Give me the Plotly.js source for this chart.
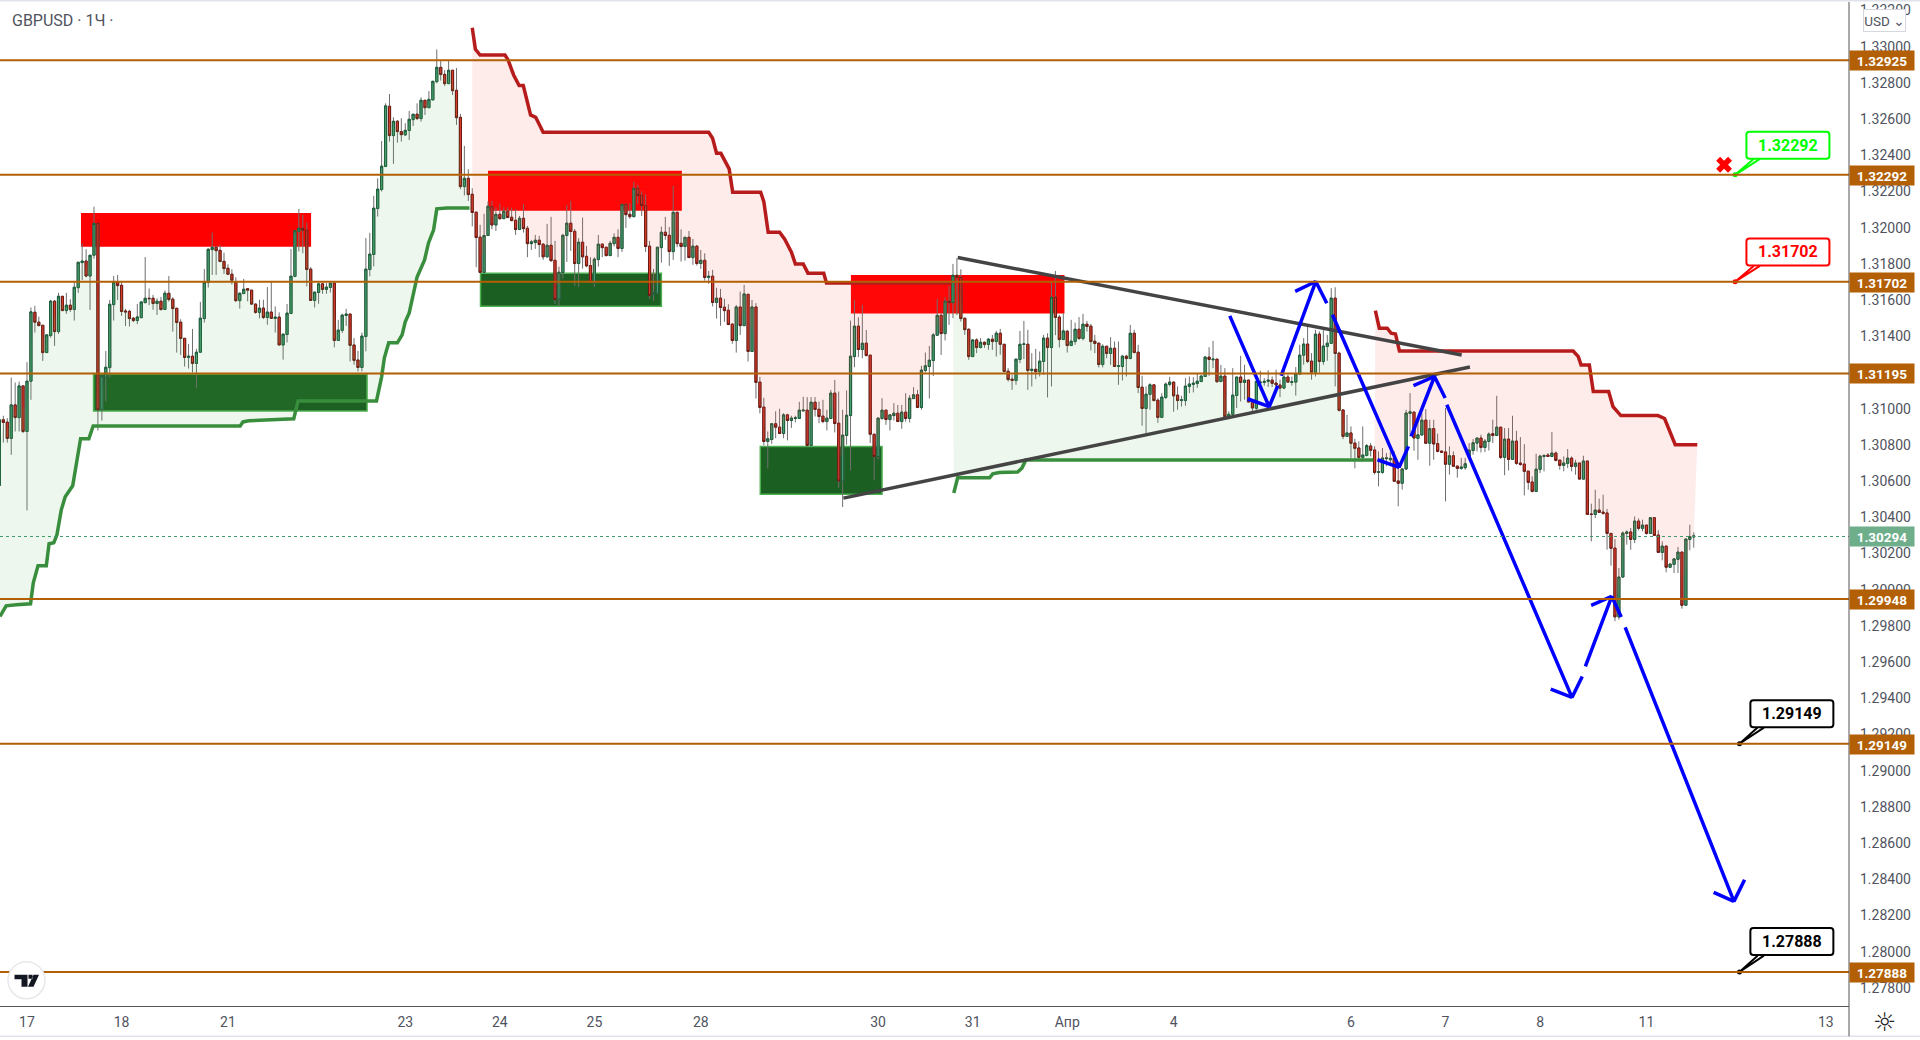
<!DOCTYPE html>
<html><head><meta charset="utf-8"><title>GBPUSD</title>
<script src="https://cdn.plot.ly/plotly-3.0.1.min.js"></script>
<style>html,body{margin:0;padding:0;background:#fff;overflow:hidden}#c{width:1920px;height:1040px}</style>
</head><body><div id="c"></div>
<script>
// Hourly candles in price points (1e-5): open,high,low,close per candle.
const candlesMar17 = [130576,130957,130571,130939, 130939,130961,130813,130924, 130926,130948,130813,130836, 130836,131172,130745,131021, 131021,131145,130874,130951, 130951,131150,130874,131126, 131126,131126,130865,130874, 130874,131257,130438,131152, 131152,131559,131049,131535, 131533,131568,131421,131478, 131478,131509,131457,131459, 131461,131461,131264,131310, 131310,131408,131310,131408, 131404,131601,131393,131594, 131594,131601,131347,131426, 131426,131640,131413,131621, 131621,131621,131542,131542, 131542,131640,131524,131572, 131572,131605,131535,131548, 131548,131698,131487,131671, 131669,131809,131640,131809, 131807,131914,131711,131816, 131816,131881,131726,131733, 131733,131848,131546,131848, 131848,132116,131829,132024, 132024,132024,130880,130994, 130994,131181,130935,131181, 131174,131319,131040,131229, 131227,131601,131172,131577, 131575,131733,131487,131700, 131700,131739,131601,131680, 131682,131702,131513,131537, 131540,131551,131457,131535, 131538,131546,131454,131498, 131500,131507,131478,131487, 131487,131579,131467,131507, 131503,131590,131500,131590, 131586,131838,131583,131610, 131610,131664,131572,131608, 131610,131629,131546,131581, 131581,131610,131518,131594, 131594,131618,131542,131548, 131548,131653,131546,131638, 131638,131733,131592,131603, 131605,131616,131426,131553, 131555,131555,131310,131476, 131478,131494,131297,131388, 131389,131389,131233,131283, 131283,131358,131222,131290, 131290,131441,131200,131250, 131250,131331,131112,131312, 131312,131590,131312,131500, 131498,131772,131476,131698, 131697,131886,131669,131881, 131879,131973,131739,131892, 131892,131899,131739,131873, 131875,131905,131813,131813, 131814,131862,131745,131774, 131776,131798,131739,131743, 131743,131770,131686,131710, 131702,131726,131590,131597, 131597,131643,131553,131638, 131636,131717,131636,131660];
const candlesMar22 = [131663,131666,131593,131655, 131655,131655,131574,131578, 131578,131580,131525,131532, 131532,131602,131499,131556, 131556,131602,131495,131504, 131504,131672,131464,131534, 131534,131703,131499,131499, 131499,131565,131421,131506, 131506,131532,131352,131352, 131352,131412,131271,131412, 131410,131578,131366,131528, 131526,131883,131526,131732, 131731,131983,131727,131983, 131979,132104,131869,131997, 131997,132071,131859,131986, 131986,132029,131675,131769, 131771,131782,131598,131598, 131598,131644,131559,131644, 131642,131694,131580,131690, 131690,131696,131635,131659, 131659,131694,131635,131672, 131670,131694,131642,131694, 131694,131694,131339,131377, 131377,131491,131377,131434, 131433,131525,131418,131517, 131515,131552,131458,131523, 131523,131523,131261,131350, 131352,131390,131243,131267, 131269,131320,131206,131228, 131228,131421,131206,131401, 131399,131942,131317,131771, 131769,131972,131731,131854, 131852,132176,131786,132108, 132106,132273,132062,132213, 132211,132479,132200,132340, 132338,132687,132338,132673, 132671,132739,132476,132509, 132509,132610,132353,132588, 132588,132595,132470,132531, 132531,132605,132476,132514, 132513,132577,132507,132538, 132537,132645,132485,132599, 132597,132627,132562,132627, 132627,132687,132595,132603, 132603,132720,132586,132704, 132704,132704,132623,132663, 132663,132755,132663,132709, 132706,132809,132706,132809, 132807,132985,132798,132886, 132886,132923,132813,132846, 132847,132871,132783,132796, 132796,132923,132796,132870, 132870,132870,132733,132757, 132759,132882,132568,132608, 132610,132629,132213,132227, 132227,132452,132178,132273, 132273,132323,132148,132183, 132185,132218,132007,132084, 132086,132086,131782,131946, 131948,132016,131749,131753, 131753,132077,131753,131957, 131957,132145,131957,132119];
const candlesMar24 = [132117,132148,131991,132015, 132015,132111,131982,132074, 132074,132133,132043,132050, 132050,132113,132050,132091, 132091,132113,132056,132056, 132058,132111,132039,132039, 132041,132102,131960,131990, 131990,132065,131988,132052, 132052,132131,131973,131995, 131997,132010,131837,131912, 131912,131933,131877,131922, 131918,131960,131883,131931, 131931,131955,131837,131907, 131909,131914,131822,131839, 131839,132021,131837,131903, 131903,132060,131811,131818, 131820,131927,131579,131603, 131605,131785,131568,131754, 131752,131966,131717,131958, 131957,132126,131811,132025, 132025,132148,131872,131979, 131980,131993,131679,131802, 131802,131942,131673,131920, 131920,132056,131774,131839, 131842,131899,131782,131789, 131791,131837,131697,131697, 131693,131837,131673,131826, 131824,131960,131785,131909, 131909,131914,131837,131890, 131892,131892,131841,131846, 131846,131927,131844,131914, 131912,131969,131896,131947, 131947,131991,131837,131885, 131885,132135,131866,132129, 132129,132135,131999,132072, 132074,132135,132049,132061, 132061,132253,132058,132218, 132218,132236,132131,132177, 132179,132201,132065,132122, 132122,132185,131866,131896, 131898,131927,131607,131625, 131629,131772,131598,131642, 131638,131892,131634,131892, 131890,132006,131807,131975, 131975,132060,131933,131957, 131958,132004,131789,131868, 131868,132231,131822,132085, 132085,132089,131892,131912, 131914,131991,131813,131896, 131896,131947,131818,131947, 131947,131982,131833,131835, 131835,131938,131795,131898, 131898,131905,131791,131802, 131802,131877,131772,131820, 131820,131859,131708,131725, 131725,131761,131690,131732, 131732,131767,131565,131587, 131587,131668,131498,131611, 131611,131662,131458,131559, 131561,131607,131480,131542, 131544,131577,131462,131465, 131467,131473,131359,131377];
const candlesMar29 = [131377,131573,131310,131562, 131562,131647,131408,131459, 131459,131684,131457,131634, 131632,131632,131261,131316, 131316,131601,131316,131562, 131562,131583,131056,131145, 131147,131176,130974,131007, 131009,131060,130797,130819, 130819,130874,130670,130834, 130830,130920,130806,130917, 130917,130986,130837,130898, 130898,131000,130861,130863, 130863,130975,130837,130966, 130966,130972,130825,130935, 130935,130961,130894,130948, 130946,130961,130924,130950, 130946,131038,130944,130992, 130988,131066,130986,130992, 130992,131064,130791,130797, 130797,131064,130797,131036, 131036,131064,130957,130996, 130997,131040,130920,130957, 130959,131049,130920,130929, 130929,130994,130880,130948, 130946,131104,130944,131086, 131086,131159,130869,130918, 130920,131095,130563,130600, 130600,130994,130457,130854, 130852,131101,130801,130964, 130962,131487,130659,131290, 131288,131601,131229,131456, 131456,131505,131285,131327, 131327,131573,131279,131362, 131362,131435,131288,131294, 131296,131296,130810,130859, 130859,130859,130604,130736, 130736,130951,130718,130948, 130946,131058,130939,130992, 130992,130994,130911,130940, 130940,130966,130880,130966, 130962,131031,130935,130975, 130975,131021,130928,130929, 130929,131021,130889,130981, 130981,131086,130929,130946, 130946,131075,130924,131058, 131056,131119,131053,131077, 131077,131104,131003,131007, 131007,131237,130994,131213, 131211,131310,131200,131237, 131233,131347,131056,131268, 131266,131417,131181,131408, 131406,131605,131402,131516, 131516,131527,131297,131415, 131415,131616,131377,131594, 131594,131678,131463,131586, 131586,131800,131500,131737, 131737,131831,131518,131726, 131726,131770,131481,131498, 131500,131500,131408,131437, 131439,131443,131270,131288, 131288,131384,131288,131380, 131380,131389,131307,131338];
const candlesApr01 = [131338,131390,131333,131367, 131367,131371,131336,131355, 131355,131390,131325,131384, 131384,131408,131325,131371, 131371,131430,131288,131417, 131417,131441,131298,131356, 131356,131356,131200,131206, 131207,131224,131150,131161, 131163,131187,131104,131156, 131156,131274,131132,131274, 131272,131430,131252,131356, 131355,131485,131274,131358, 131356,131436,131104,131211, 131211,131307,131123,131218, 131218,131331,131163,131204, 131204,131316,131178,131263, 131261,131408,131187,131390, 131390,131417,131062,131338, 131338,131702,131123,131616, 131616,131761,131406,131504, 131506,131518,131338,131382, 131382,131528,131380,131430, 131428,131436,131310,131349, 131349,131491,131347,131373, 131371,131476,131353,131439, 131439,131506,131380,131388, 131388,131524,131377,131467, 131467,131485,131426,131454, 131456,131469,131322,131371, 131373,131408,131307,131360, 131362,131366,131228,131244, 131244,131356,131228,131345, 131345,131347,131279,131305, 131305,131395,131242,131334, 131334,131371,131233,131233, 131233,131371,131132,131237, 131233,131298,131156,131290, 131290,131298,131178,131277, 131277,131463,131277,131417, 131417,131436,131307,131310, 131312,131353,131086,131117, 131119,131182,130906,131001, 131001,131123,130865,131080, 131079,131141,130994,131132, 131132,131132,131040,131045, 131047,131058,130922,130952, 130952,131086,130948,131064, 131062,131145,131053,131136, 131134,131176,131123,131147, 131147,131150,130983,131071, 131075,131123,130994,131045, 131045,131071,131012,131049, 131045,131169,131016,131125, 131123,131178,131086,131136, 131134,131174,131090,131141, 131139,131193,131115,131152, 131150,131187,131150,131180, 131178,131292,131178,131285, 131285,131340,131182,131272, 131270,131375,131224,131274, 131274,131274,131145,131149, 131150,131242,131150,131180];
const candlesApr05 = [131180,131224,130939,130956, 130956,130985,130948,130969, 130969,131224,130961,131075, 131073,131175,131004,131175, 131175,131292,131040,131145, 131145,131243,131050,131158, 131158,131160,131035,131037, 131039,131039,130985,131004, 131002,131151,130994,131151, 131143,131210,131105,131147, 131145,131169,131127,131151, 131151,131212,131120,131158, 131158,131178,131120,131140, 131142,131215,131105,131131, 131131,131160,131064,131114, 131114,131215,131108,131175, 131175,131188,131142,131147, 131145,131178,131127,131149, 131147,131230,131072,131193, 131191,131353,131191,131296, 131296,131390,131243,131357, 131357,131454,131252,131261, 131263,131307,131160,131202, 131202,131436,131178,131412, 131412,131427,131200,131261, 131261,131436,131243,131346, 131344,131408,131265,131362, 131361,131666,131359,131611, 131611,131671,131123,131305, 131307,131315,130985,130991, 130993,130998,130832,130847, 130847,130967,130847,130866, 130866,130902,130728,130809, 130810,130834,130671,130781, 130783,130820,130709,130731, 130731,130902,130709,130744, 130742,130805,130737,130796, 130794,130810,130737,130770, 130772,130792,130636,130648, 130648,130764,130571,130652, 130648,130783,130641,130728, 130724,130755,130682,130728, 130718,130764,130682,130726, 130728,130764,130597,130599, 130601,130682,130461,130588, 130588,130672,130553,130667, 130667,130994,130663,130976, 130974,131086,130847,130983, 130981,130985,130768,130838, 130836,130939,130718,130856, 130855,130976,130851,130937, 130937,130998,130807,130809, 130809,130939,130685,130890, 130890,130939,130718,130805, 130807,130862,130759,130764, 130766,130768,130755,130759, 130761,131004,130488,130693, 130693,130792,130636,130740, 130740,130764,130678,130682, 130683,130685,130619,130670, 130670,130728,130663,130678, 130674,130728,130663,130696];
const candlesApr08 = [130736,130810,130736,130771, 130769,130832,130746,130812, 130810,130838,130764,130838, 130838,130856,130758,130786, 130786,130832,130760,130821, 130819,130869,130769,130860, 130862,130939,130810,130852, 130852,131071,130852,130898, 130898,130898,130722,130731, 130731,130893,130632,130832, 130832,130893,130659,130720, 130720,130961,130718,130821, 130821,130878,130690,130698, 130700,130843,130685,130692, 130694,130804,130521,130654, 130655,130655,130552,130593, 130595,130626,130538,130543, 130543,130751,130543,130666, 130665,130746,130644,130738, 130736,130746,130654,130742, 130744,130755,130733,130736, 130736,130871,130733,130755, 130755,130764,130709,130714, 130716,130718,130663,130687, 130687,130736,130654,130700, 130698,130777,130672,130727, 130727,130736,130654,130681, 130681,130718,130635,130700, 130700,130700,130611,130611, 130611,130740,130611,130711, 130711,130711,130416,130416, 130418,130475,130267,130416, 130416,130552,130396,130440, 130440,130503,130424,130427, 130429,130525,130414,130422, 130424,130446,130221,130311, 130311,130311,130133,130229, 130230,130280,129826,129850, 129850,130120,129835,130070, 130070,130322,130065,130313, 130311,130328,130249,130319, 130319,130341,130221,130278, 130278,130405,130258,130379, 130379,130394,130328,130339, 130339,130387,130322,130357, 130357,130357,130304,130311, 130311,130401,130309,130398, 130398,130400,130298,130300, 130302,130328,130203,130206, 130206,130267,130162,130241, 130241,130241,130096,130124, 130124,130142,130120,130142, 130140,130175,130092,130170, 130168,130236,130092,130208, 130208,130208,129895,129914, 129914,130280,129914,130280, 130278,130359,130218,130293, 130291,130317,130232,130297];

// Supertrend step lines: bar position and price in points.
const stGreen1X = [0.15,1.7,4.3,7.9,8.6,9.8,11.9,12.6,13.8,14.6,15.7,16.7,18.6,20.6,22.7,23.8,61.1,61.8,63.3,74.7,75.8,95.7,97,97.7,98.8,101,102.2,103,104,105,106,107.9,108.9,110.2,111,113.6,119.3];
const stGreen1Y = [129852,129911,129917,129922,130038,130132,130132,130254,130259,130303,130441,130513,130574,130834,130834,130905,130905,130927,130933,130944,131043,131043,131176,131281,131364,131364,131408,131480,131529,131640,131728,131822,131916,131988,132104,132109,132109];
const stRed1X = [120,120.8,122,128.3,129.1,130.5,131.9,132.95,134.8,136.1,138,180,181,182,183.1,185.2,186.1,193.2,194,195.1,198,199.3,201,202,204,205.2,209.2,209.9,241.6];
const stRed1Y = [133105,132986,132954,132954,132927,132844,132785,132785,132623,132610,132527,132527,132494,132411,132411,132325,132196,132196,132144,131975,131975,131936,131865,131800,131800,131749,131749,131695,131695];
const stGreen2X = [242.2,243.2,251.3,252.1,253.8,258.4,259.5,260.5,348.7];
const stGreen2Y = [130534,130618,130618,130640,130647,130650,130672,130717,130717];
const stRed2X = [349.2,350.2,352.2,353.2,354.3,355.3,399.4,400.7,401.4,403.5,404.5,408.4,409.5,411.5,420.9,422.6,425.3,430.9];
const stRed2Y = [131542,131445,131445,131417,131413,131319,131319,131288,131242,131242,131095,131095,131012,130962,130962,130946,130801,130801];

// Horizontal levels and tick labels
const levels = [1.32925,1.32292,1.31702,1.31195,1.29948,1.29149,1.27888];
const lastPrice = 1.30294;
const xTickVals = [7,31,58,103,127,151,178,223,247,271,298,343,367,391,418,463.5];
const xTickText = ['17','18','21','23','24','25','28','30','31','Апр','4','6','7','8','11','13'];
const yTicks = [1.278,1.280,1.282,1.284,1.286,1.288,1.290,1.292,1.294,1.296,1.298,1.300,1.302,1.304,1.306,1.308,1.310,1.314,1.316,1.318,1.320,1.322,1.324,1.326,1.328,1.330,1.332];

// Supply / demand zones: [bar start, bar end, price top, price bottom]
const redZones = [[20.7,79.1,132081,131895],[124,173.2,132314,132094],[216.1,270.3,131739,131526]];
const greenZones = [[23.9,93.3,131191,130987],[122.1,168,131749,131566],[193.1,224,130791,130528]];

// Drawn trend lines: [bar0, price0, bar1, price1]
const trendUpper = [243.2,131835,371.1,131297];
const trendLower = [214.2,130506,373.2,131230];

// Hand-drawn blue arrows
const arrowX = [
 [312.25,322.24,324.44],[316.74,322.24],
 [325.28,334.08,336.87],[328.84,334.08],
 [338.31,355.23,357.6],[349.73,355.23],
 [358.28,364.2,366.91],[358.87,364.2],
 [367.33,399.1,401.7],[393.7,399.1],
 [402.5,409.2,411.6],[403.96,409.2],
 [412.6,440.2,442.9],[435.05,440.2]];
const arrowY = [
 [131513,131011,131127],[131055,131011],
 [131182,131703,131583],[131648,131703],
 [131519,130676,130792],[130718,130676],
 [130847,131178,131059],[131127,131178],
 [131022,129405,129521],[129451,129405],
 [129576,129963,129849],[129913,129963],
 [129792,128278,128398],[128328,128278]];

// Callouts
const callouts = [
 {text:'1.32292',color:'#00ff00',bar:453.9,box:132455,tail:[445.2,440.5,446.8],tailY:[132380,132292,132380]},
 {text:'1.31702',color:'#ff0000',bar:453.9,box:131866,tail:[445.2,440.5,446.8],tailY:[131789,131702,131789]},
 {text:'1.29149',color:'#000000',bar:454.9,box:129315,tail:[446.2,441.6,447.8],tailY:[129238,129149,129238]},
 {text:'1.27888',color:'#000000',bar:454.9,box:128056,tail:[446.2,441.6,447.8],tailY:[127978,127888,127978]}];
const crossBar = 437.7, crossPrice = 132348;

// ---- build ----
const flat = [].concat(candlesMar17,candlesMar22,candlesMar24,candlesMar29,candlesApr01,candlesApr05,candlesApr08);
const idx=[],O=[],H=[],L=[],C=[];
for(let k=0;k<flat.length;k+=4){idx.push(k/4);O.push(flat[k]/1e5);H.push(flat[k+1]/1e5);L.push(flat[k+2]/1e5);C.push(flat[k+3]/1e5);}
const bodyTop=O.map((v,i)=>Math.max(v,C[i])), bodyBot=O.map((v,i)=>Math.min(v,C[i]));
const pr=a=>a.map(v=>v/1e5);
const traces=[];
// wicks
const GREY='#6f6f6f';
traces.push({type:'candlestick',x:idx,open:O,high:H,low:L,close:C,whiskerwidth:0,
 increasing:{line:{color:GREY,width:1},fillcolor:'rgba(0,0,0,0)'},decreasing:{line:{color:GREY,width:1},fillcolor:'rgba(0,0,0,0)'},hoverinfo:'skip',showlegend:false});
// bodies
traces.push({type:'candlestick',x:idx,open:O,high:bodyTop,low:bodyBot,close:C,whiskerwidth:0,
 increasing:{line:{color:'#1a5c3a',width:1},fillcolor:'#4a9d70'},decreasing:{line:{color:'#6b1a12',width:1},fillcolor:'#d83b2b'},hoverinfo:'skip',showlegend:false});
// supertrend with fill to candle midpoints
function st(x,y,from,to,lineColor,fill){
 const mx=[],my=[];
 for(let i=from;i<=to;i++){mx.push(idx[i]);my.push((O[i]+C[i])/2);}
 traces.push({type:'scatter',mode:'lines',x:mx,y:my,line:{width:0,color:'rgba(0,0,0,0)'},hoverinfo:'skip',showlegend:false});
 traces.push({type:'scatter',mode:'lines',x:x,y:pr(y),line:{color:lineColor,width:3.5},fill:'tonexty',fillcolor:fill,hoverinfo:'skip',showlegend:false});
}
const LG='rgba(76,175,80,0.10)', LR='rgba(244,67,54,0.10)';
st(stGreen1X,stGreen1Y,0,119,'#388e3c',LG);
st(stRed1X,stRed1Y,120,241,'#b71c1c',LR);
st(stGreen2X,stGreen2Y,242,348,'#388e3c',LG);
st(stRed2X,stRed2Y,349,430,'#b71c1c',LR);
// trend lines
[trendUpper,trendLower].forEach(t=>traces.push({type:'scatter',mode:'lines',x:[t[0],t[2]],y:pr([t[1],t[3]]),line:{color:'#444444',width:3.5},hoverinfo:'skip',showlegend:false}));
// arrows
arrowX.forEach((ax,i)=>traces.push({type:'scatter',mode:'lines',x:ax,y:pr(arrowY[i]),line:{color:'#0000ff',width:3.5},hoverinfo:'skip',showlegend:false}));
// callout tails + dots
callouts.forEach(c=>{
 traces.push({type:'scatter',mode:'lines',x:c.tail,y:pr(c.tailY),line:{color:c.color,width:2},fill:'toself',fillcolor:'#ffffff',hoverinfo:'skip',showlegend:false});
 traces.push({type:'scatter',mode:'markers',x:[c.tail[1]],y:[c.tailY[1]/1e5],marker:{color:c.color,size:5},hoverinfo:'skip',showlegend:false});
});
traces.push({type:'scatter',mode:'markers',x:[crossBar],y:[crossPrice/1e5],marker:{symbol:'x',color:'#ff0000',size:14,line:{width:0}},hoverinfo:'skip',showlegend:false});

const ORANGE='#b25f05';
const shapes=[];
redZones.forEach(z=>shapes.push({type:'rect',layer:'below',xref:'x',yref:'y',x0:z[0],x1:z[1],y0:z[2]/1e5,y1:z[3]/1e5,fillcolor:'#ff0000',line:{width:0}}));
greenZones.forEach(z=>shapes.push({type:'rect',layer:'below',xref:'x',yref:'y',x0:z[0],x1:z[1],y0:z[2]/1e5,y1:z[3]/1e5,fillcolor:'#1c5f22',line:{color:'#4caf50',width:1.5}}));
levels.forEach(v=>shapes.push({type:'line',layer:'above',xref:'paper',yref:'y',x0:0,x1:1,y0:v,y1:v,line:{color:ORANGE,width:2}}));
shapes.push({type:'line',layer:'above',xref:'paper',yref:'y',x0:0,x1:1,y0:lastPrice,y1:lastPrice,line:{color:'#3f9a6b',width:1,dash:'dot'}});
// rounded callout boxes
const rr='M-38.5,-13.5 L38.5,-13.5 Q41.5,-13.5 41.5,-10.5 L41.5,10.5 Q41.5,13.5 38.5,13.5 L-38.5,13.5 Q-41.5,13.5 -41.5,10.5 L-41.5,-10.5 Q-41.5,-13.5 -38.5,-13.5 Z';
callouts.forEach(c=>shapes.push({type:'path',layer:'above',xref:'x',yref:'y',xsizemode:'pixel',ysizemode:'pixel',xanchor:c.bar,yanchor:c.box/1e5,path:rr,fillcolor:'#ffffff',line:{color:c.color,width:2}}));
// frame: top band, bottom band, right separator down to the bottom
shapes.push({type:'line',layer:'above',xref:'paper',yref:'paper',x0:0,x1:1.0385,y0:1.0015,y1:1.0015,line:{color:'#e0e3eb',width:2}});
shapes.push({type:'line',layer:'above',xref:'paper',yref:'paper',x0:0,x1:1.0385,y0:-0.0302,y1:-0.0302,line:{color:'#e0e3eb',width:1.5}});
shapes.push({type:'line',layer:'above',xref:'paper',yref:'paper',x0:1,x1:1,y0:-0.0302,y1:1,line:{color:'#555555',width:1}});
// logo
const LX=26.5/1849, LY=(1005.7-980)/1003.7;
shapes.push({type:'circle',layer:'above',xref:'paper',yref:'paper',xsizemode:'pixel',ysizemode:'pixel',xanchor:LX,yanchor:LY,x0:-18.5,x1:18.5,y0:-18.5,y1:18.5,fillcolor:'#ffffff',line:{color:'#e8e8ec',width:1.5}});
shapes.push({type:'path',layer:'above',xref:'paper',yref:'paper',xsizemode:'pixel',ysizemode:'pixel',xanchor:LX,yanchor:LY,path:'M-12,5.5 L1,5.5 L1,-6.5 L-5,-6.5 L-5,1 L-12,1 Z M12.5,5.5 L7,5.5 L1.5,-6.5 L7,-6.5 Z M2,5.5 L6,5.5 L6,1.5 L2,1.5 Z',fillcolor:'#131722',line:{width:0}});

const anns=[];
const FONT='Roboto, "Liberation Sans", sans-serif';
levels.concat([lastPrice]).forEach(v=>anns.push({xref:'paper',yref:'y',x:1,y:v,xanchor:'left',yanchor:'middle',yshift:-0.5,text:'<b>'+v.toFixed(5)+'</b>',showarrow:false,width:64,height:19,borderpad:0,bgcolor:v===lastPrice?'#6fae8b':ORANGE,font:{color:'#ffffff',size:13.5,family:FONT},align:'center'}));
callouts.forEach(c=>anns.push({xref:'x',yref:'y',x:c.bar,y:c.box/1e5,xanchor:'center',yanchor:'middle',text:'<b>'+c.text+'</b>',showarrow:false,font:{color:c.color,size:16,family:FONT}}));
anns.push({xref:'paper',yref:'paper',x:10/1849,y:(1005.7-20)/1003.7,xanchor:'left',yanchor:'middle',showarrow:false,text:'GBPUSD · 1Ч ·',font:{size:16,color:'#50535e',family:FONT}});
anns.push({xref:'paper',yref:'paper',x:1884.5/1849,y:(1005.7-20)/1003.7,xanchor:'center',yanchor:'middle',showarrow:false,text:'USD ⌄',width:41,height:21,borderpad:0,bgcolor:'#ffffff',bordercolor:'#d6d8e0',borderwidth:1,font:{size:13.5,color:'#50535e',family:'Roboto, "DejaVu Sans", sans-serif'}});
anns.push({xref:'paper',yref:'paper',x:1884/1849,y:-15.5/1003.7,xanchor:'center',yanchor:'middle',showarrow:false,text:'☼',font:{size:26,color:'#222222',family:'"DejaVu Sans"'}});

const layout={width:1920,height:1040,autosize:false,margin:{l:0,r:71,t:2,b:34,pad:0},paper_bgcolor:'#ffffff',plot_bgcolor:'#ffffff',
 showlegend:false,hovermode:false,dragmode:false,boxmode:'overlay',boxgap:0.22,
 xaxis:{type:'linear',range:[0.15,469.4],showgrid:false,zeroline:false,showline:true,linecolor:'#555555',linewidth:1,rangeslider:{visible:false},tickmode:'array',tickvals:xTickVals,ticktext:xTickText,ticks:'',ticklabelstandoff:3,tickfont:{size:14,color:'#50535e',family:FONT},fixedrange:true},
 yaxis:{type:'linear',side:'right',range:[1.27700,1.33247],showgrid:false,zeroline:false,showline:false,tickmode:'array',tickvals:yTicks,ticktext:yTicks.map(v=>v.toFixed(5)),ticks:'',ticklabelstandoff:10,tickfont:{size:14,color:'#50535e',family:FONT},fixedrange:true},
 shapes:shapes,annotations:anns};
Plotly.newPlot('c',traces,layout,{displayModeBar:false,staticPlot:true});
</script></body></html>
